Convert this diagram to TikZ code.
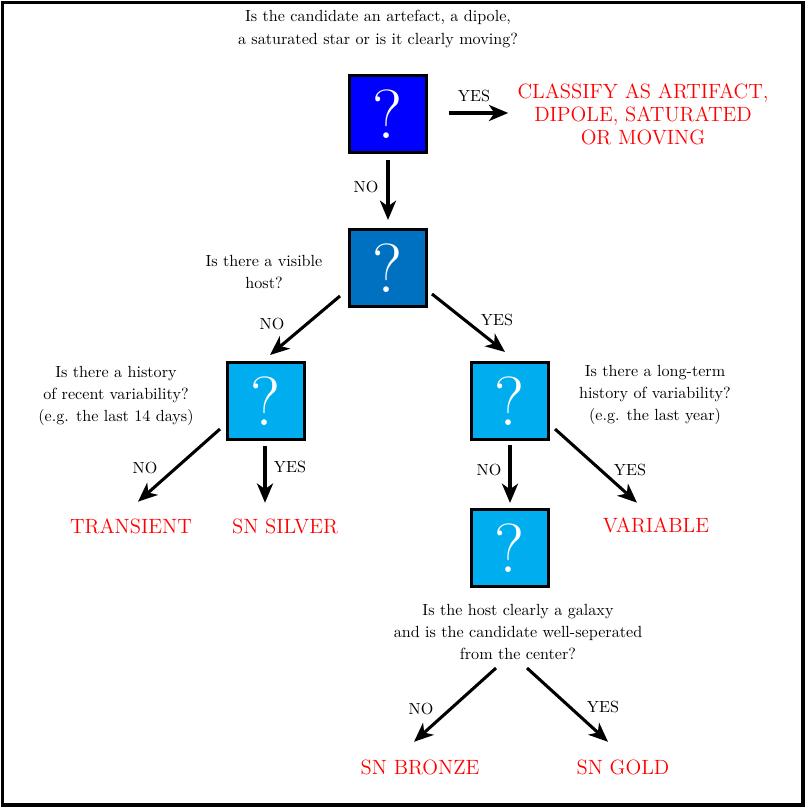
\documentclass[tikz,border=0pt]{standalone}
\usepackage{fontspec}
\usetikzlibrary{arrows.meta}

\definecolor{qdeep}{RGB}{0,0,255}
\definecolor{qmid}{RGB}{0,112,192}
\definecolor{qlight}{RGB}{0,174,239}

\begin{document}
\begin{tikzpicture}[x=0.62pt, y=-0.62pt,
    q/.style={draw, line width=1.8pt, minimum size=47.2pt, inner sep=0pt, text=white, font=\fontsize{43}{43}\selectfont},
    ask/.style={align=center, inner sep=0pt, font=\fontsize{10}{13.8}\selectfont},
    res/.style={align=center, inner sep=0pt, text=red, font=\fontsize{12.8}{14.3}\selectfont},
    lab/.style={inner sep=0pt, font=\fontsize{10}{12}\selectfont},
    arr/.style={line width=1.9pt, -{Stealth[length=12pt, width=10pt, inset=3.5pt]}}]
  \useasboundingbox (0,0) rectangle (807,808);
  \draw[line width=1.9pt] (2.5,2.5) rectangle (803,805);

  % question boxes
  \node[q, fill=qdeep] (q1) at (388,114) {?};
  \node[q, fill=qmid] (q2) at (388,268) {?};
  \node[q, fill=qlight] (q3) at (266,401) {?};
  \node[q, fill=qlight] (q4) at (510,401) {?};
  \node[q, fill=qlight] (q5) at (510,548) {?};

  % questions
  \node[ask] (t1) at (378,29) {Is the candidate an artefact, a dipole,\\a saturated star or is it clearly moving?};
  \node[ask] (t2) at (264,272) {Is there a visible\\host?};
  \node[ask] (t3) at (116,396) {Is there a history\\of recent variability?\\(e.g. the last 14 days)};
  \node[ask] (t4) at (655,395) {Is there a long-term\\history of variability?\\(e.g. the last year)};
  \node[ask] (t5) at (518,632) {Is the host clearly a galaxy\\and is the candidate well-seperated\\from the center?};

  % outcomes
  \node[res] (artifact) at (643,114) {CLASSIFY AS ARTIFACT,\\DIPOLE, SATURATED\\OR MOVING};
  \node[res] (transient) at (131,526) {TRANSIENT};
  \node[res] (silver) at (285,526) {SN SILVER};
  \node[res] (variable) at (656,525) {VARIABLE};
  \node[res] (bronze) at (420,767) {SN BRONZE};
  \node[res] (gold) at (623,767) {SN GOLD};

  % answers
  \node[lab] (l1yes) at (474,96) {YES};
  \node[lab] (l1no) at (366,187) {NO};
  \node[lab] (l2no) at (272,324) {NO};
  \node[lab] (l2yes) at (497,320) {YES};
  \node[lab] (l3no) at (145,468) {NO};
  \node[lab] (l3yes) at (290,467) {YES};
  \node[lab] (l4no) at (489,470) {NO};
  \node[lab] (l4yes) at (630,470) {YES};
  \node[lab] (l5no) at (421,709) {NO};
  \node[lab] (l5yes) at (603,707) {YES};

  \draw[arr] ([shift={(21.5,-1)}]q1.east) -- ([shift={(-9,-1)}]artifact.west);
  \draw[arr] ([shift={(0,6.5)}]q1.south) -- ([shift={(0,-8.5)}]q2.north);
  \draw[arr] ([shift={(-8.5,-11.5)}]q2.south west) -- ([shift={(-35.5,-6.5)}]q3.north east);
  \draw[arr] ([shift={(4.5,-13.5)}]q2.south east) -- ([shift={(34.5,-9.5)}]q4.north west);
  \draw[arr] ([shift={(-6.5,-11.5)}]q3.south west) -- ([shift={(7,-16.4)}]transient.north);
  \draw[arr] ([shift={(-1,5.5)}]q3.south) -- ([shift={(-20,-15.4)}]silver.north);
  \draw[arr] ([shift={(0,4.5)}]q4.south) -- ([shift={(0,-5.5)}]q5.north);
  \draw[arr] ([shift={(5.5,-11.5)}]q4.south east) -- ([shift={(-19,-14.4)}]variable.north);
  \draw[arr] ([shift={(-14,80.5)}]q5.south) -- ([shift={(-6,-17.4)}]bronze.north);
  \draw[arr] ([shift={(17,80.5)}]q5.south) -- ([shift={(-15,-17.4)}]gold.north);
\end{tikzpicture}
\end{document}
